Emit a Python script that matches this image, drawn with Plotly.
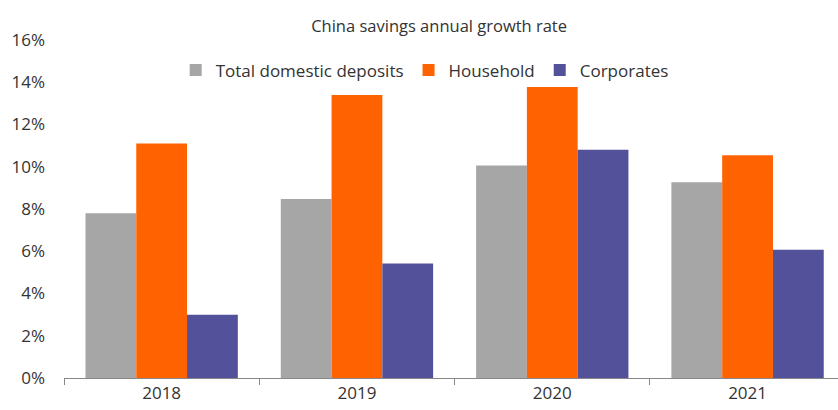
import plotly.graph_objects as go

years = ["2018", "2019", "2020", "2021"]
total_deposits = [0.078, 0.0847, 0.1006, 0.0927]
household = [0.111, 0.134, 0.1378, 0.1055]
corporates = [0.030, 0.0542, 0.108, 0.0607]

series = [
    ("Total domestic deposits", total_deposits, "#A6A6A6"),
    ("Household", household, "#FF6200"),
    ("Corporates", corporates, "#525199"),
]

fig = go.Figure()
for name, vals, col in series:
    fig.add_trace(go.Bar(x=years, y=vals, name=name, marker=dict(color=col, line=dict(width=0))))

font_family = "Open Sans, sans-serif"
fig.update_layout(
    width=838, height=410,
    margin=dict(l=64, r=0, t=40, b=32),
    paper_bgcolor="white", plot_bgcolor="white",
    barmode="group", bargap=0.22, bargroupgap=0,
    font=dict(family=font_family, size=17, color="#333333"),
    title=dict(text="China savings annual growth rate", x=0.524, xanchor="center",
               y=0.937, yanchor="middle", font=dict(size=16.5, color="#333333")),
    legend=dict(orientation="h", x=0.466, xanchor="center", y=0.91, yanchor="middle",
                font=dict(size=17, color="#333333"), bgcolor="rgba(0,0,0,0)",
                itemwidth=30, traceorder="normal"),
    xaxis=dict(type="category", range=[-0.5, 3.463], showline=True, linecolor="#888888",
               linewidth=1, ticks="outside", tickson="boundaries", ticklen=6,
               tickcolor="#888888", showgrid=False, tickfont=dict(size=17)),
    yaxis=dict(range=[0, 0.16], tickvals=[0, 0.02, 0.04, 0.06, 0.08, 0.10, 0.12, 0.14, 0.16],
               tickformat=".0%", showgrid=False, zeroline=False, showline=False,
               ticks="", ticklabelstandoff=18, tickfont=dict(size=17)),
)
fig.write_html("out.html")
